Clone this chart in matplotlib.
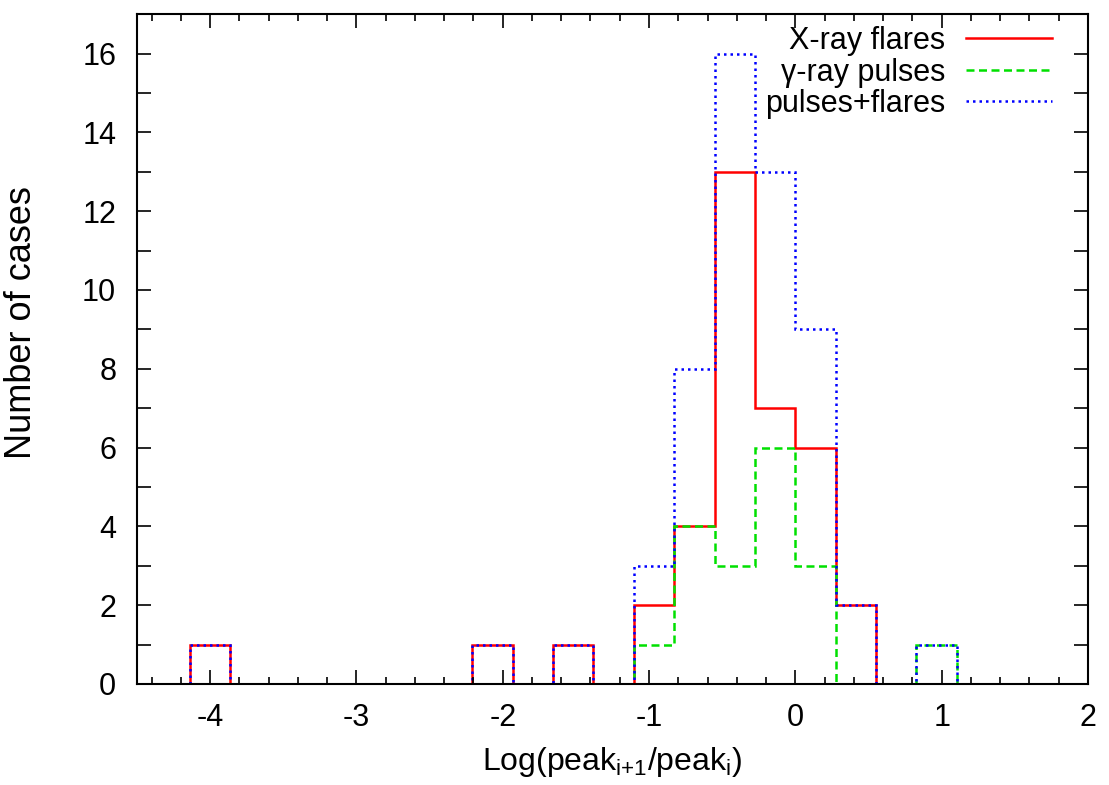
import numpy as np
import matplotlib
matplotlib.use('Agg')
import matplotlib.pyplot as plt
from matplotlib.ticker import MultipleLocator

plt.rcParams['font.family'] = ['Liberation Sans', 'DejaVu Sans']
plt.rcParams['mathtext.fontset'] = 'custom'
plt.rcParams['mathtext.rm'] = 'Liberation Sans'
plt.rcParams['mathtext.it'] = 'Liberation Sans'
plt.rcParams['axes.unicode_minus'] = False

# bin edges of the histogram (20 bins, width ~0.276)
bin_start = -4.14
bin_width = 0.276
n_bins = 20
edges = bin_start + bin_width * np.arange(n_bins + 1)

# counts per bin
xray_flares = [1, 0, 0, 0, 0, 0, 0, 1, 0, 1, 0, 2, 4, 13, 7, 6, 2, 0, 0, 0]
gamma_pulses = [0, 0, 0, 0, 0, 0, 0, 0, 0, 0, 0, 1, 4, 3, 6, 3, 0, 0, 1, 0]
pulses_flares = [1, 0, 0, 0, 0, 0, 0, 1, 0, 1, 0, 3, 8, 16, 13, 9, 2, 0, 1, 0]

fs = 22

fig = plt.figure(figsize=(11.09, 7.85), dpi=100)
ax = fig.add_axes([0.1235, 0.1287, 0.8575, 0.8533])

ax.stairs(xray_flares, edges, color='#ff0000', lw=1.8, label='X-ray flares')
ax.stairs(gamma_pulses, edges, color='#00e000', lw=1.8, linestyle=(0, (3.2, 1.8)),
          label='γ-ray pulses')
ax.stairs(pulses_flares, edges, color='#0000ff', lw=1.8, linestyle=(0, (1, 1.6)),
          label='pulses+flares')

ax.set_xlim(-4.5, 2)
ax.set_ylim(0, 17)
ax.xaxis.set_major_locator(MultipleLocator(1))
ax.xaxis.set_minor_locator(MultipleLocator(0.2))
ax.yaxis.set_major_locator(MultipleLocator(2))
ax.yaxis.set_minor_locator(MultipleLocator(1))
ax.tick_params(which='both', direction='in', top=True, right=True, width=1.2,
               labelsize=fs)
ax.tick_params(which='major', length=10)
ax.tick_params(axis='x', which='major', pad=14)
ax.tick_params(axis='y', which='major', pad=15)
ax.tick_params(axis='y', which='minor', length=10)
ax.tick_params(axis='x', which='minor', length=5)
for s in ax.spines.values():
    s.set_linewidth(1.5)

ax.set_xlabel(r'Log(peak$_{\text{i+1}}$/peak$_{\text{i}}$)', fontsize=fs + 1, labelpad=8)
ax.set_ylabel('Number of cases', fontsize=26)
ax.yaxis.set_label_coords(39 / 1109, 1 - 323 / 785, transform=fig.transFigure)

leg = ax.legend(loc='upper right', bbox_to_anchor=(1052 / 1109, 1 - 26 / 785),
                bbox_transform=fig.transFigure, frameon=False, markerfirst=False,
                fontsize=fs, handlelength=2.8, handletextpad=0.7,
                labelspacing=0.05, borderpad=0, borderaxespad=0)
for t in leg.get_texts():
    t.set_ha('right')

fig.savefig('out.png', dpi=100)
